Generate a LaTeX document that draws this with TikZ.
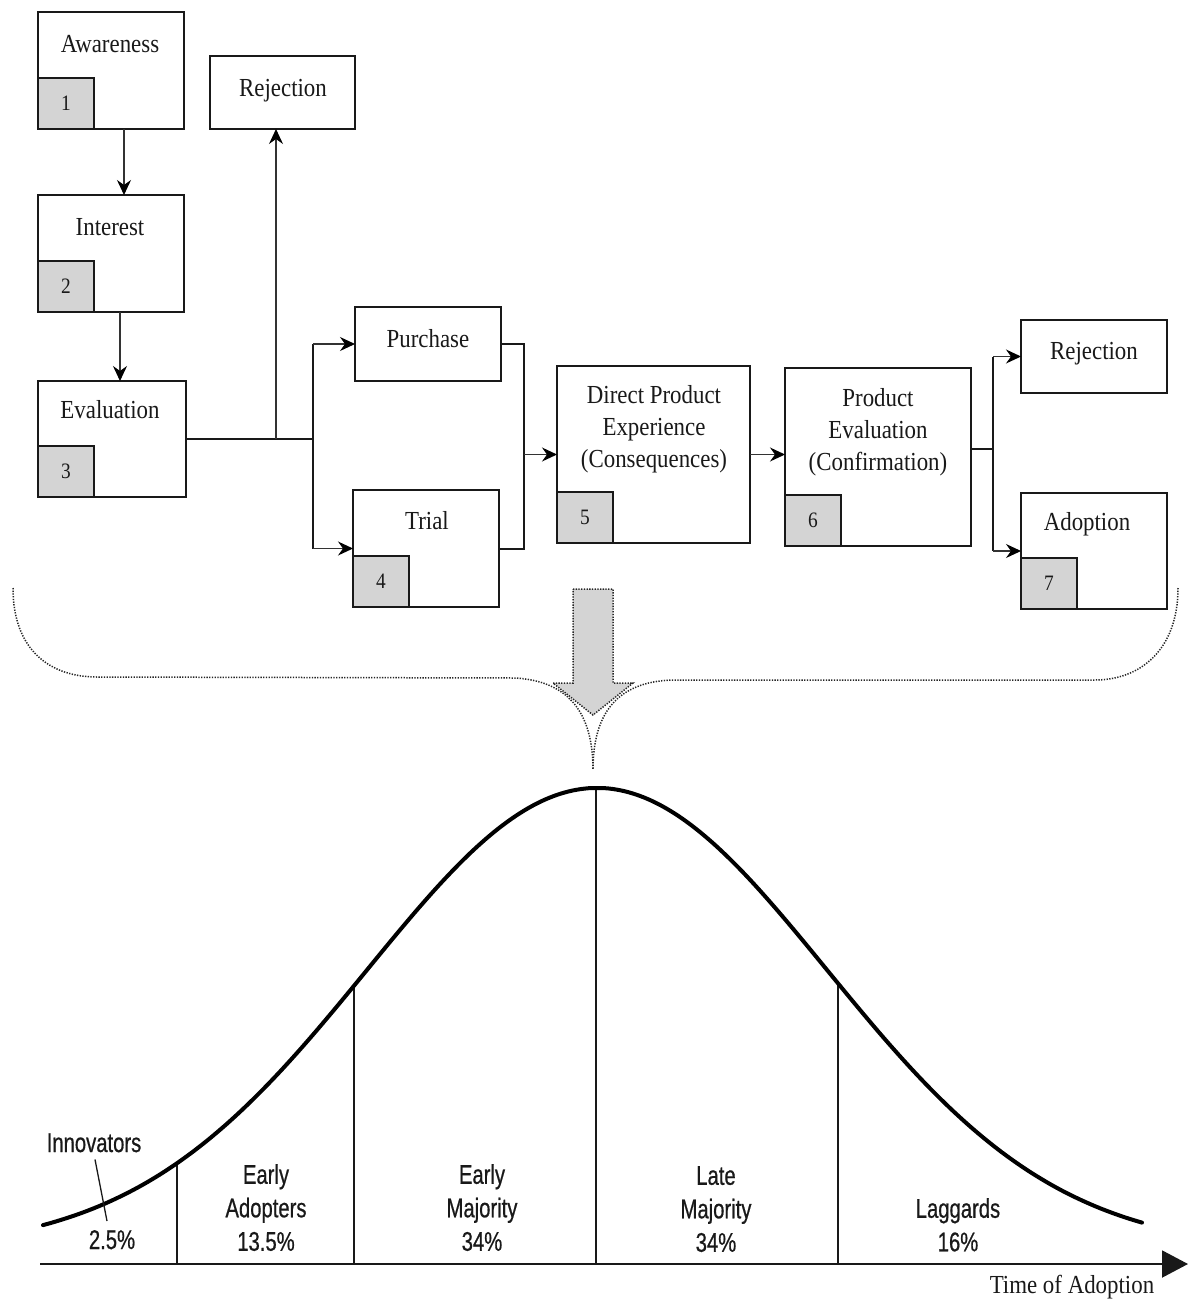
\documentclass[tikz,border=0pt]{standalone}
\usepackage{fontspec}
\setmainfont{Liberation Serif}
\newfontfamily\boxfont[FakeStretch=0.88]{Liberation Serif}
\newfontfamily\curvefont[FakeStretch=0.75,FakeBold=0.6]{Liberation Sans}
\usetikzlibrary{arrows.meta}

\begin{document}
\begin{tikzpicture}[x=1pt,y=-1pt,
  declare function={bell(\x)=1250.5-462.5*exp(-0.5*((\x-597)/230)^2);},
  box/.style={draw=black!90, line width=2.2pt, anchor=north west, inner sep=0pt, outer sep=0pt},
  numbox/.style={draw=black!90, line width=2.2pt, fill=black!17, anchor=south west,
    minimum width=56pt, minimum height=51pt, inner sep=0pt, outer sep=0pt,
    font=\boxfont\fontsize{22}{26}\selectfont, text=black!90},
  lbl/.style={font=\boxfont\fontsize{26}{32}\selectfont, text=black!90, inner sep=0pt, anchor=base},
  mlbl/.style={lbl, align=center, anchor=north},
  arr/.style={draw=black!80, line width=1.1pt, -{Stealth[length=15pt,width=14pt,inset=5pt,black]}},
  bus/.style={draw=black!90, line width=2pt},
  dots/.style={draw=black!85, line width=1.5pt, dash pattern=on 1.3pt off 1.4pt},
  clbl/.style={font=\curvefont\fontsize{27}{33.5}\selectfont, text=black!90, inner sep=0pt, align=center},
  divider/.style={draw=black!90, line width=1.6pt}]

\useasboundingbox (0,0) rectangle (1189,1299);
\fill[white] (0,0) rectangle (1189,1299);

% ---------- decision process boxes ----------
\node[box, minimum width=146pt, minimum height=117pt] (aw) at (38,12) {};
\node[numbox] (aw-n) at (aw.south west) {1};
\node[lbl] (aw-t) at (110,52) {Awareness};

\node[box, minimum width=146pt, minimum height=117pt] (in) at (38,195) {};
\node[numbox] (in-n) at (in.south west) {2};
\node[lbl] (in-t) at (110,235) {Interest};

\node[box, minimum width=148pt, minimum height=116pt] (ev) at (38,381) {};
\node[numbox] (ev-n) at (ev.south west) {3};
\node[lbl] (ev-t) at (110,418) {Evaluation};

\node[box, minimum width=145pt, minimum height=73pt] (rj1) at (210,56) {};
\node[lbl] (rj1-t) at (283,96) {Rejection};

\node[box, minimum width=146pt, minimum height=74pt] (pu) at (355,307) {};
\node[lbl] (pu-t) at (428,347) {Purchase};

\node[box, minimum width=146pt, minimum height=117pt] (tr) at (353,490) {};
\node[numbox] (tr-n) at (tr.south west) {4};
\node[lbl] (tr-t) at (427,529) {Trial};

\node[box, minimum width=193pt, minimum height=177pt] (dp) at (557,366) {};
\node[numbox] (dp-n) at (dp.south west) {5};
\node[mlbl] (dp-t) at (654,385) {Direct Product\\Experience\\(Consequences)};

\node[box, minimum width=186pt, minimum height=178pt] (pe) at (785,368) {};
\node[numbox] (pe-n) at (pe.south west) {6};
\node[mlbl] (pe-t) at (878,388) {Product\\Evaluation\\(Confirmation)};

\node[box, minimum width=146pt, minimum height=73pt] (rj2) at (1021,320) {};
\node[lbl] (rj2-t) at (1094,359) {Rejection};

\node[box, minimum width=146pt, minimum height=116pt] (ad) at (1021,493) {};
\node[numbox] (ad-n) at (ad.south west) {7};
\node[lbl] (ad-t) at (1087,530) {Adoption};

% ---------- connectors ----------
\draw[arr] ([xshift=86pt]aw.south west) -- ([xshift=86pt]in.north west);
\draw[arr] ([xshift=82pt]in.south west) -- ([xshift=82pt]ev.north west);

\coordinate (j1) at (276,439);
\coordinate (j2) at (313,439);
\draw[bus] (ev.east) -- (j2);
\draw[arr] (j1) -- (j1 |- rj1.south);
\draw[bus] (j2 |- pu.west) -- (j2 |- tr.west);
\draw[arr] (j2 |- pu.west) -- (pu.west);
\draw[arr] (j2 |- tr.west) -- (tr.west);

\coordinate (m) at (524,0);
\draw[bus] (pu.east) -| (m |- tr.east) -- (tr.east);
\draw[arr] (m |- dp.west) -- (dp.west);
\draw[arr] (dp.east) -- (dp.east -| pe.west);

\coordinate (k) at (993,449);
\draw[bus] ([yshift=8pt]pe.east) -- (k);
\draw[bus] (k |- rj2.west) -- (k |- ad.west);
\draw[arr] (k |- rj2.west) -- (rj2.west);
\draw[arr] (k |- ad.west) -- (ad.west);

% ---------- brace and block arrow ----------
\draw[dots] (13,588) .. controls (13,650) and (50,677) .. (97,677) -- (515,678)
  .. controls (568,681) and (593,712) .. (593,770);
\draw[dots] (1178,588) .. controls (1178,650) and (1140,680) .. (1095,680) -- (672,680)
  .. controls (618,682) and (593,712) .. (593,770);
\path[dots, fill=black!17] (573,589) -- (613,589) -- (613,683) -- (633,683) -- (593,715)
  -- (553,683) -- (573,683) -- cycle;

% ---------- adoption curve ----------
\coordinate (axs) at (40,1264);
\coordinate (axe) at (1188,1264);
\draw[line width=2pt, black!90, -{Triangle[length=26pt,width=27pt]}] (axs) -- (axe);

\draw[divider] (177,{bell(177)}) -- (177,1264);
\draw[divider] (354,{bell(354)}) -- (354,1264);
\draw[divider] (596,{bell(596)}) -- (596,1264);
\draw[divider] (838,{bell(838)}) -- (838,1264);

\draw[line width=4pt, black, line cap=round] plot[domain=43:1142, samples=140, smooth] (\x,{bell(\x)});

\node[clbl, anchor=base] (innov) at (94,1152) {Innovators};
\coordinate (ld) at (107,1221);
\draw[line width=1.3pt, black!90] ([shift={(1pt,-7pt)}]innov.south) -- (ld);
\node[clbl, anchor=base] (p1) at (112,1249) {2.5\%};
\node[clbl, anchor=north] (g2) at (266,1164) {Early\\Adopters\\13.5\%};
\node[clbl, anchor=north] (g3) at (482,1164) {Early\\Majority\\34\%};
\node[clbl, anchor=north] (g4) at (716,1166) {Late\\Majority\\34\%};
\node[clbl, anchor=north] (g5) at (958,1198) {Laggards\\16\%};
\node[lbl] (tadopt) at (1072,1293) {Time of Adoption};
\end{tikzpicture}
\end{document}
